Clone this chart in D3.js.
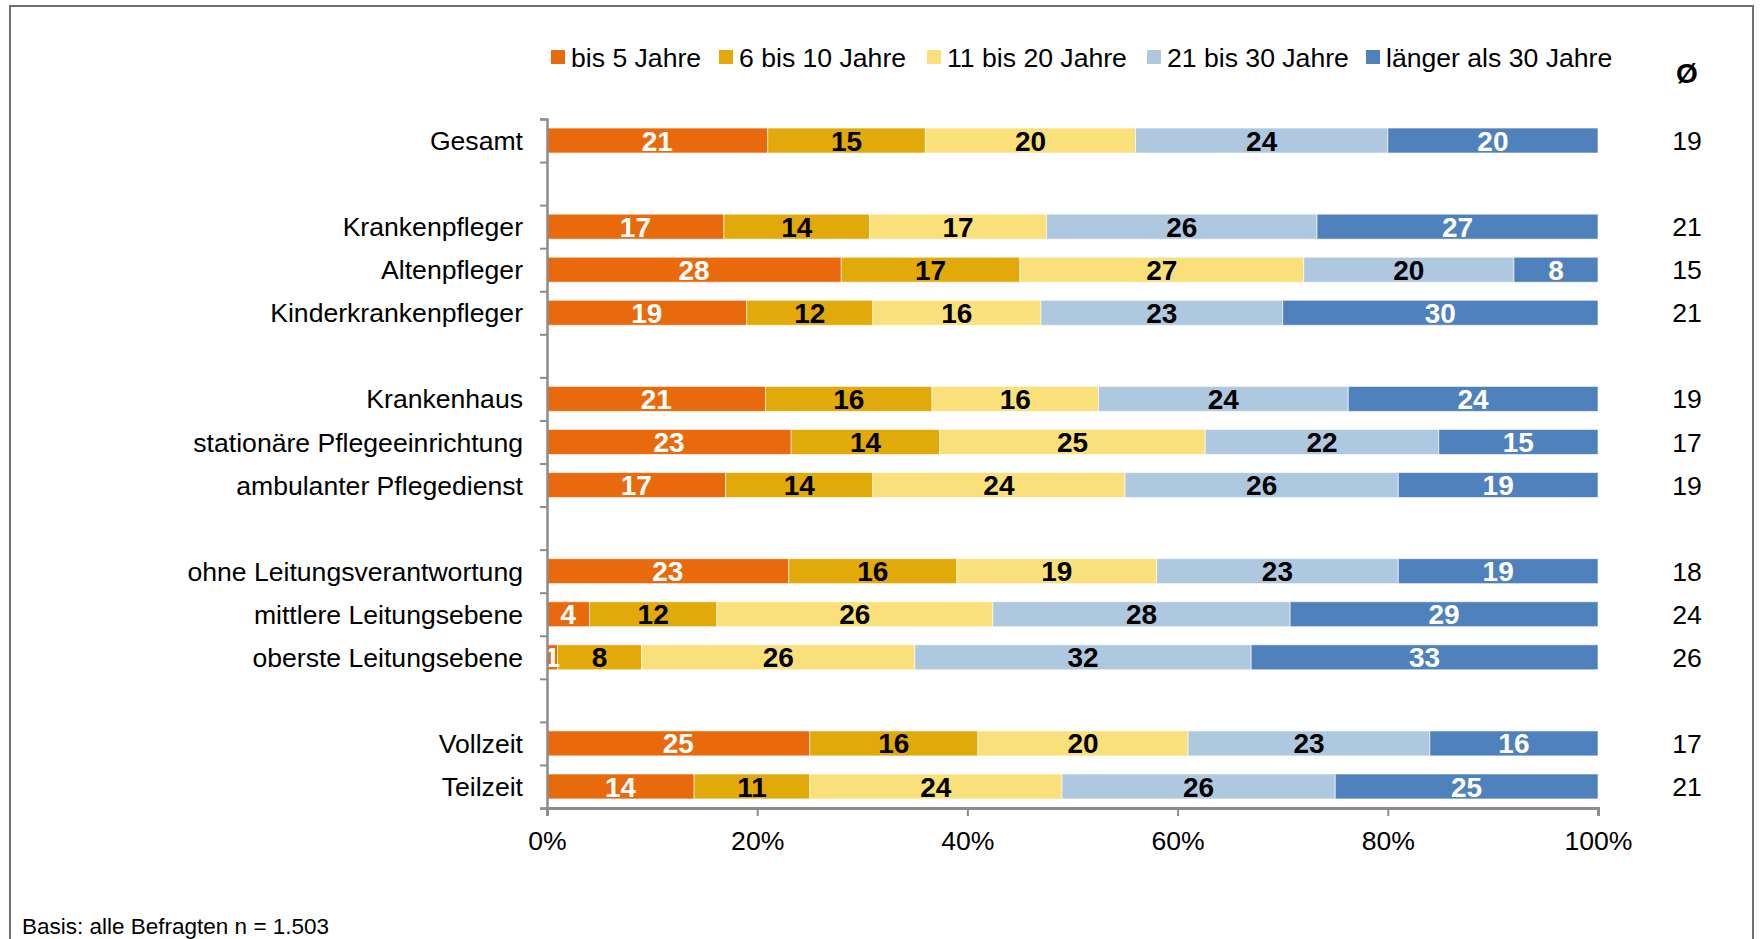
<!DOCTYPE html>
<html>
<head>
<meta charset="utf-8">
<script src="https://cdn.jsdelivr.net/npm/d3@7"></script>
<style>
  body { margin: 0; background: #fff; }
  svg { font-family: "Liberation Sans", Arial, Helvetica, sans-serif; }
  .axis path, .axis line { stroke: #8c8c8c; }
  .axis text { font-size: 26px; fill: #000; }
</style>
</head>
<body>
<div class="chart"></div>
<script>
"use strict";

// categories in order, null = empty row between groups
const categories = [
  "Gesamt", null,
  "Krankenpfleger", "Altenpfleger", "Kinderkrankenpfleger", null,
  "Krankenhaus", "stationäre Pflegeeinrichtung", "ambulanter Pflegedienst", null,
  "ohne Leitungsverantwortung", "mittlere Leitungsebene", "oberste Leitungsebene", null,
  "Vollzeit", "Teilzeit"
];

const seriesNames = ["bis 5 Jahre", "6 bis 10 Jahre", "11 bis 20 Jahre", "21 bis 30 Jahre", "länger als 30 Jahre"];
const seriesColors = ["#E96A0C", "#E1A90A", "#F9E07A", "#AEC8E0", "#4F81BD"];
const labelColors = ["#fff", "#000", "#000", "#000", "#fff"];

const bis5    = [21, 17, 28, 19, 21, 23, 17, 23, 4, 1, 25, 14];
const bis10   = [15, 14, 17, 12, 16, 14, 14, 16, 12, 8, 16, 11];
const bis20   = [20, 17, 27, 16, 16, 25, 24, 19, 26, 26, 20, 24];
const bis30   = [24, 26, 20, 23, 24, 22, 26, 23, 28, 32, 23, 26];
const ueber30 = [20, 27, 8, 30, 24, 15, 19, 19, 29, 33, 16, 25];
const mean    = [19, 21, 15, 21, 19, 17, 19, 18, 24, 26, 17, 21];

const xTicks = [0, 0.2, 0.4, 0.6, 0.8, 1];

const width = 1760;
const height = 939;

const svg = d3.select(".chart").append("svg")
  .attr("width", width)
  .attr("height", height);

// frame
svg.append("rect")
  .attr("x", 10).attr("y", 6)
  .attr("width", 1743).attr("height", 960)
  .attr("fill", "none")
  .attr("stroke", "#6b7079")
  .attr("stroke-width", 2);

const keys = categories.map((c, i) => c === null ? "_gap" + i : c);
const rows = categories.filter((c) => c !== null);
const values = [bis5, bis10, bis20, bis30, ueber30];

const plotTop = 119, plotBottom = 808, plotLeft = 547, plotRight = 1598;

const x = d3.scaleLinear().domain([0, 1]).range([plotLeft, plotRight]);
const y = d3.scaleBand().domain(keys).range([plotTop, plotBottom]).paddingInner(0.42).paddingOuter(0.21);
const ySlots = d3.scaleLinear().domain([0, keys.length]).range([plotTop, plotBottom]);

// stacked rows, normalized to 100%
const data = rows.map((name, i) => {
  const vals = values.map((s) => s[i]);
  const total = d3.sum(vals);
  let acc = 0;
  return {
    name,
    mean: mean[i],
    segs: vals.map((v, j) => {
      const s = { v, j, x0: acc / total, x1: (acc + v) / total };
      acc += v;
      return s;
    })
  };
});

const row = svg.selectAll(".row")
  .data(data)
  .enter()
  .append("g")
  .attr("class", "row")
  .attr("transform", (d) => `translate(0,${y(d.name)})`);

row.selectAll("rect")
  .data((d) => d.segs)
  .enter()
  .append("rect")
  .attr("x", (d) => x(d.x0))
  .attr("width", (d) => x(d.x1) - x(d.x0))
  .attr("height", y.bandwidth())
  .attr("fill", (d) => seriesColors[d.j])
  .attr("stroke", "rgba(255,255,255,0.6)")
  .attr("stroke-width", 1);

row.selectAll("text.val")
  .data((d) => d.segs)
  .enter()
  .append("text")
  .attr("class", "val")
  .attr("x", (d) => (x(d.x0) + x(d.x1)) / 2)
  .attr("y", y.bandwidth() / 2)
  .attr("dy", "0.36em")
  .attr("text-anchor", "middle")
  .style("font-size", "28px")
  .style("font-weight", "bold")
  .style("fill", (d) => labelColors[d.j])
  .text((d) => d.v);

// category labels
row.append("text")
  .attr("x", plotLeft - 24)
  .attr("y", y.bandwidth() / 2)
  .attr("dy", "0.36em")
  .attr("text-anchor", "end")
  .style("font-size", "26.6px")
  .text((d) => d.name);

// mean column
row.append("text")
  .attr("x", 1687)
  .attr("y", y.bandwidth() / 2)
  .attr("dy", "0.36em")
  .attr("text-anchor", "middle")
  .style("font-size", "26.6px")
  .text((d) => d.mean);

svg.append("text")
  .attr("x", 1687)
  .attr("y", 73)
  .attr("dy", "0.36em")
  .attr("text-anchor", "middle")
  .style("font-size", "28px")
  .style("font-weight", "bold")
  .text("Ø");

// axes
svg.append("g")
  .attr("class", "axis")
  .attr("transform", `translate(${plotLeft},0)`)
  .call(d3.axisLeft(ySlots).tickValues(d3.range(keys.length + 1)).tickSize(7).tickFormat(""))
  .call((g) => g.select(".domain").attr("stroke-width", 2.5))
  .call((g) => g.selectAll(".tick line").attr("stroke-width", 2));

svg.append("g")
  .attr("class", "axis")
  .attr("transform", `translate(0,${plotBottom})`)
  .call(d3.axisBottom(x).tickValues(xTicks).tickSize(8).tickPadding(15).tickFormat(d3.format(".0%")))
  .call((g) => g.select(".domain").attr("stroke-width", 3))
  .call((g) => g.selectAll(".tick line").attr("stroke-width", 2))
  .call((g) => g.selectAll(".tick text").style("font-size", "26.6px"));

// legend
const legendX = [551, 719, 927, 1147, 1366];
const legend = svg.selectAll(".legend")
  .data(seriesNames)
  .enter()
  .append("g")
  .attr("class", "legend")
  .attr("transform", (d, i) => `translate(${legendX[i]},57)`);

legend.append("rect")
  .attr("x", 0).attr("y", -7)
  .attr("width", 14).attr("height", 14)
  .attr("fill", (d, i) => seriesColors[i]);

legend.append("text")
  .attr("x", 20)
  .attr("dy", "0.36em")
  .style("font-size", "26.6px")
  .text((d) => d);

// footnote
svg.append("text")
  .attr("x", 22)
  .attr("y", 926)
  .attr("dy", "0.36em")
  .style("font-size", "22.5px")
  .text("Basis: alle Befragten n = 1.503");
</script>
</body>
</html>
